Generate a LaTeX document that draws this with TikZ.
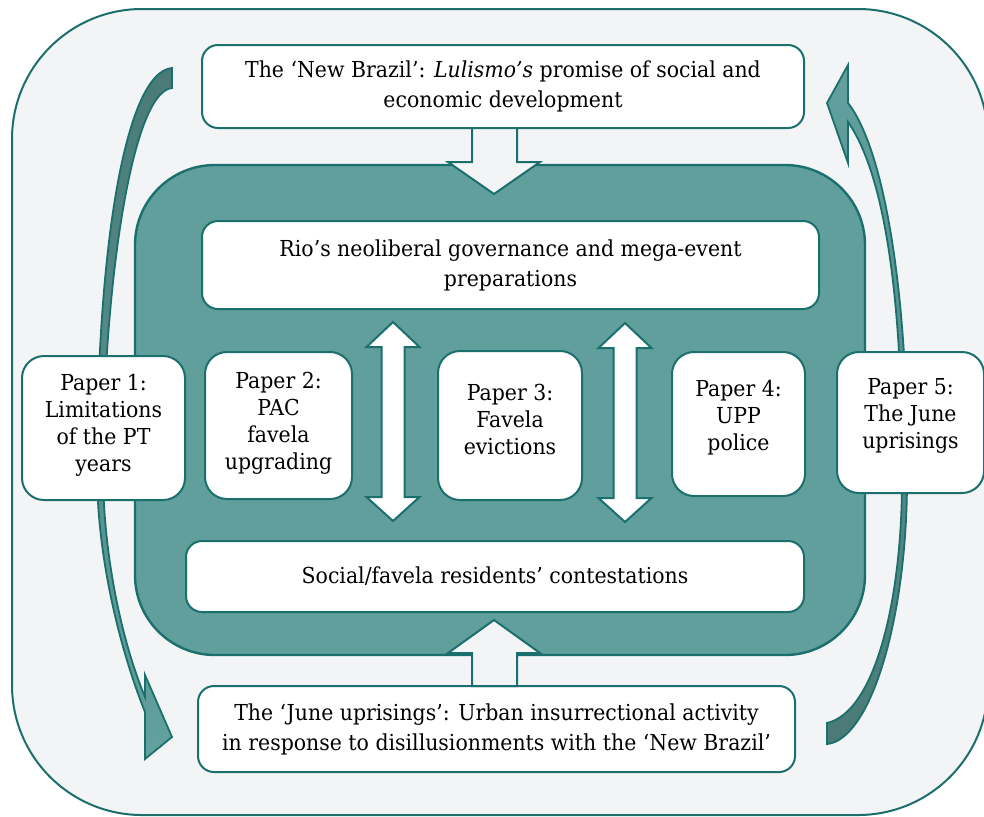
\documentclass[tikz,border=0pt]{standalone}
\usepackage{fontspec}
\setmainfont{DejaVu Serif}[FakeStretch=0.93]
\usetikzlibrary{calc}
\definecolor{tealline}{HTML}{1B6F6C}
\definecolor{tealfill}{HTML}{609F9C}
\definecolor{bgfill}{HTML}{F2F4F6}
\definecolor{arrdark}{HTML}{4A7A76}
\definecolor{arrlight}{HTML}{62A19E}
\begin{document}
\begin{tikzpicture}[x=0.5pt,y=-0.5pt,
  box/.style={draw=tealline, line width=1pt, fill=white, rounded corners=8pt,
    align=center, font=\fontsize{11}{15}\selectfont, inner sep=0pt},
  paper/.style={draw=tealline, line width=1pt, fill=white, rounded corners=11pt, inner sep=0pt},
  ptext/.style={align=center, font=\fontsize{11}{13.5}\selectfont, inner sep=0pt},
  blockarrow/.style={draw=tealline, line width=1pt, fill=bgfill},
  dblarrow/.style={draw=tealline, line width=1pt, fill=white},
  curvearrow/.style={draw=tealline, line width=0.9pt, line join=miter}
]
\useasboundingbox (0,0) rectangle (984,816);
% outer background
\draw[tealline, line width=1pt, fill=bgfill, rounded corners=65pt] (12,9) rectangle (988,815);
% inner teal panel
\draw[tealline, line width=1.2pt, fill=tealfill, rounded corners=40pt] (135,165) rectangle (865,655);

% left curved arrow (down)
\draw[curvearrow, top color=arrdark, bottom color=arrlight]
  (172,88) -- (172,68)
  .. controls (125,72) and (97,250) .. (97,470)
  .. controls (97,560) and (121,652) .. (145,712)
  -- (145,759) -- (172,737) -- (145,675) -- (145,697)
  .. controls (122,642) and (103,555) .. (103,470)
  .. controls (103,300) and (130,92) .. (172,88)
  -- cycle;

% right curved arrow (up)
\draw[curvearrow, top color=arrlight, bottom color=arrdark]
  (827,744) -- (827,723)
  .. controls (875,712) and (902,600) .. (902,480)
  .. controls (903,300) and (885,175) .. (848,122)
  -- (848,163) -- (827,103) -- (848,65) -- (848,103)
  .. controls (885,150) and (909,300) .. (907,480)
  .. controls (907,620) and (870,740) .. (827,744)
  -- cycle;

% boxes
\node[box, minimum width=301pt, minimum height=41.5pt] (newbrazil) at (503,86.5)
  {The ‘New Brazil’: \textit{Lulismo’s} promise of social and\\economic development};
\node[box, minimum width=308.5pt, minimum height=44pt] (rio) at (510.5,265)
  {Rio’s neoliberal governance and mega-event\\preparations};
\node[box, minimum width=309pt, minimum height=35.5pt] (social) at (495,576.5)
  {Social/favela residents’ contestations};
\node[box, minimum width=298.5pt, minimum height=43pt] (june) at (496.5,729)
  {The ‘June uprisings’: Urban insurrectional activity\\in response to disillusionments with the ‘New Brazil’};

\node[paper, minimum width=81.5pt, minimum height=72pt] (p1) at (103.5,428) {};
\node[paper, minimum width=73.5pt, minimum height=73.5pt] (p2) at (278.5,425.5) {};
\node[paper, minimum width=72pt, minimum height=74.5pt] (p3) at (510,425.5) {};
\node[paper, minimum width=66.5pt, minimum height=72pt] (p4) at (738.5,424) {};
\node[paper, minimum width=73.5pt, minimum height=70.5pt] (p5) at (910.5,422.5) {};
\node[ptext] (t1) at ($(p1.center)+(0,-2.5)$) {Paper 1:\\Limitations\\of the PT\\years};
\node[ptext] (t2) at ($(p2.center)+(0,-2)$) {Paper 2:\\PAC\\favela\\upgrading};
\node[ptext] (t3) at ($(p3.center)+(0,-6.5)$) {Paper 3:\\Favela\\evictions};
\node[ptext] (t4) at ($(p4.center)+(0,-6)$) {Paper 4:\\UPP\\police};
\node[ptext] (t5) at ($(p5.center)+(0,-6.5)$) {Paper 5:\\The June\\uprisings};

% block arrows
\draw[blockarrow] (472,128) -- (472,162) -- (448,162) -- (494,194) -- (540,162) -- (517,162) -- (517,128) -- cycle;
\draw[blockarrow] (472,686) -- (472,653) -- (448,653) -- (494,620) -- (540,653) -- (517,653) -- (517,686) -- cycle;

% double arrows
\draw[dblarrow] (393,322) -- (419.5,347) -- (404.5,347) -- (404.5,497) -- (419.5,497) -- (393,521)
  -- (366.5,497) -- (381.5,497) -- (381.5,347) -- (366.5,347) -- cycle;
\draw[dblarrow] (625,323) -- (651.5,348) -- (636.5,348) -- (636.5,498) -- (651.5,498) -- (625,522)
  -- (598.5,498) -- (613.5,498) -- (613.5,348) -- (598.5,348) -- cycle;
\end{tikzpicture}
\end{document}
